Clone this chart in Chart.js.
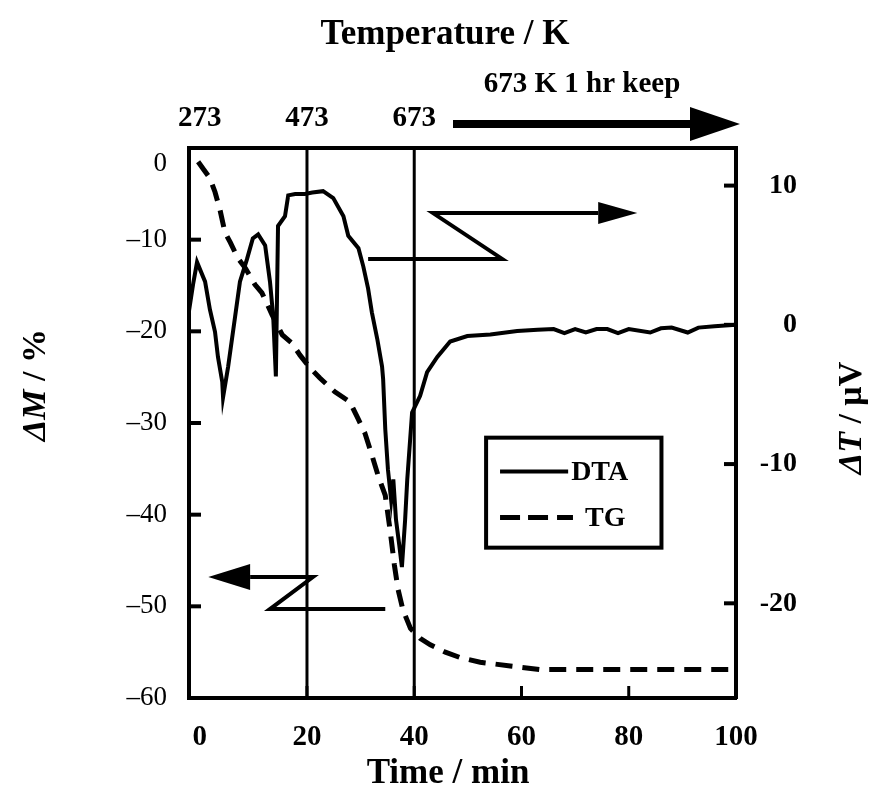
<!DOCTYPE html>
<html>
<head>
<meta charset="utf-8">
<script src="https://cdn.jsdelivr.net/npm/chart.js@4.4.1/dist/chart.umd.min.js"></script>
<style>
  html, body { margin: 0; padding: 0; background: #fff; }
</style>
</head>
<body>
<canvas id="dta-tg-chart" width="869" height="799"></canvas>
<script>
// DTA curve (right axis, ΔT / μV) against time / min
const timeDTA = [-2, -1.2, -0.5, 1.0, 1.9, 2.85, 3.4, 4.2, 4.35, 5.3, 6.6, 7.5, 8.8, 9.9, 10.9,
  12.2, 13.1, 13.7, 14.2, 14.6, 15.9, 16.5, 17.8, 19.6, 21.0, 23.0, 24.9, 26.8, 27.7, 29.6,
  30.5, 31.4, 32.1, 33.1, 34.0, 34.2, 34.6, 35.1, 35.7, 36.1, 36.6, 37.2, 37.7, 38.3, 38.7,
  39.6, 41.1, 42.4, 44.3, 46.7, 49.9, 54.2, 59.2, 63, 66, 68, 70, 72, 74, 76,
  78, 80, 84, 86, 88, 91, 93, 96, 100];
const dta = [1.0, 3.0, 4.5, 3.1, 1.1, -0.5, -2.3, -4.1, -5.2, -3.0, 0.6, 3.1, 4.7, 6.2, 6.5,
  5.7, 3.1, 0.6, -3.7, 7.1, 7.8, 9.3, 9.4, 9.4, 9.5, 9.6, 9.1, 7.8, 6.4, 5.5,
  4.2, 2.6, 0.9, -1.0, -3.0, -3.9, -7.5, -10.4, -12.6, -11.1, -14.0, -15.8, -17.4, -14.0, -11.1,
  -6.3, -5.1, -3.4, -2.3, -1.2, -0.8, -0.7, -0.45, -0.35, -0.3, -0.6, -0.3, -0.55, -0.3, -0.3,
  -0.6, -0.3, -0.55, -0.25, -0.2, -0.55, -0.2, -0.1, 0.0];

// TG curve (left axis, ΔM / %) against time / min
const timeTG = [-0.3, 0.8, 1.9, 2.85, 3.8, 4.7, 5.7, 7.1, 8.5, 10.3, 11.6, 13.5, 15.4, 17.2, 18.7,
  20.6, 22.4, 25.2, 28.0, 29.5, 30.8, 32.1, 33.3, 34.6, 35.5, 36.3, 37.0, 37.9, 39.3, 41.1,
  43.0, 45.8, 48.6, 52.3, 57.9, 63.5, 75, 100];
const tg = [-1.5, -2.4, -3.3, -4.8, -6.8, -9.2, -10.3, -12.0, -13.1, -14.9, -15.8, -18.2, -20.4, -21.3, -22.6,
  -24.0, -25.1, -26.6, -27.7, -29.5, -31.1, -33.5, -35.8, -37.9, -41.7, -45.5, -48.2, -50.4, -52.4, -53.5,
  -54.2, -55.0, -55.6, -56.1, -56.5, -56.9, -56.9, -56.9];

// tick labels
const timeTicks = [0, 20, 40, 60, 80, 100];
const tempTickTimes = [0, 20, 40];
const tempTicks = ['273', '473', '673'];
const massTicks = [0, -10, -20, -30, -40, -50, -60];
const dtaTicks = [10, 0, -10, -20];
const markerTimes = [20, 40];

const SERIF = '"Liberation Serif", "Times New Roman", serif';

const overlay = {
  id: 'overlay',
  afterDatasetsDraw(chart) {
    const ctx = chart.ctx;
    const x = chart.scales.x, yM = chart.scales.yM, yT = chart.scales.yT;
    const ca = chart.chartArea;
    ctx.save();
    ctx.strokeStyle = '#000';
    ctx.fillStyle = '#000';
    ctx.lineCap = 'butt';

    // vertical lines at 473 K and 673 K
    ctx.lineWidth = 3;
    markerTimes.forEach(t => {
      const px = x.getPixelForValue(t);
      ctx.beginPath(); ctx.moveTo(px, ca.top); ctx.lineTo(px, ca.bottom); ctx.stroke();
    });

    // inward tick marks
    ctx.lineWidth = 4;
    massTicks.slice(1, -1).forEach(v => {
      const py = yM.getPixelForValue(v);
      ctx.beginPath(); ctx.moveTo(ca.left, py); ctx.lineTo(ca.left + 12, py); ctx.stroke();
    });
    dtaTicks.forEach(v => {
      const py = yT.getPixelForValue(v);
      ctx.beginPath(); ctx.moveTo(ca.right, py); ctx.lineTo(ca.right - 12, py); ctx.stroke();
    });
    ctx.lineWidth = 3;
    timeTicks.slice(1, -1).forEach(v => {
      const px = x.getPixelForValue(v);
      ctx.beginPath(); ctx.moveTo(px, ca.bottom); ctx.lineTo(px, ca.bottom - 12); ctx.stroke();
    });

    const P = (t, m) => [x.getPixelForValue(t), yM.getPixelForValue(m)];

    // Z arrow pointing right (DTA -> right axis)
    ctx.lineWidth = 4;
    ctx.lineJoin = 'miter';
    let a = P(31.4, -12.1), b = P(56.4, -12.1), c = P(43.5, -7.1), d = P(74.3, -7.1), tip = P(81.6, -7.1);
    ctx.beginPath();
    ctx.moveTo(a[0], a[1]); ctx.lineTo(b[0], b[1]); ctx.lineTo(c[0], c[1]); ctx.lineTo(d[0], d[1]);
    ctx.stroke();
    ctx.beginPath();
    ctx.moveTo(tip[0], tip[1]); ctx.lineTo(d[0], d[1] - 11); ctx.lineTo(d[0], d[1] + 11); ctx.closePath();
    ctx.fill();

    // Z arrow pointing left (TG -> left axis)
    tip = P(1.6, -46.8); d = P(9.4, -46.8); c = P(21.1, -46.8); b = P(13.1, -50.3); a = P(34.6, -50.3);
    ctx.beginPath();
    ctx.moveTo(d[0], d[1]); ctx.lineTo(c[0], c[1]); ctx.lineTo(b[0], b[1]); ctx.lineTo(a[0], a[1]);
    ctx.stroke();
    ctx.beginPath();
    ctx.moveTo(tip[0], tip[1]); ctx.lineTo(d[0], d[1] - 13); ctx.lineTo(d[0], d[1] + 13); ctx.closePath();
    ctx.fill();

    // legend box
    const l0 = P(53.4, -31.6), l1 = P(86.1, -43.6);
    ctx.lineWidth = 4;
    ctx.strokeRect(l0[0], l0[1], l1[0] - l0[0], l1[1] - l0[1]);
    const dl = P(56.0, -35.3), dr = P(68.7, -35.3);
    ctx.beginPath(); ctx.moveTo(dl[0], dl[1]); ctx.lineTo(dr[0], dr[1]); ctx.stroke();
    const tl = P(56.0, -40.3), tr = P(69.6, -40.3);
    ctx.lineWidth = 5;
    ctx.setLineDash([20, 8, 20, 9]);
    ctx.beginPath(); ctx.moveTo(tl[0], tl[1]); ctx.lineTo(tr[0], tr[1]); ctx.stroke();
    ctx.setLineDash([]);
    ctx.font = 'bold 28px ' + SERIF;
    ctx.textBaseline = 'middle';
    ctx.textAlign = 'left';
    ctx.fillText('DTA', dr[0] + 3, dr[1] + 1);
    ctx.fillText('TG', tr[0] + 12, tr[1] + 1);
    ctx.restore();
  },
  afterDraw(chart) {
    const ctx = chart.ctx;
    ctx.save();
    ctx.fillStyle = '#000';
    ctx.strokeStyle = '#000';
    ctx.textAlign = 'center';
    ctx.textBaseline = 'middle';
    ctx.font = 'bold 35px ' + SERIF;
    ctx.fillText('Temperature / K', 445, 35);
    ctx.fillText('Time / min', 448, 774);
    ctx.font = 'bold 29px ' + SERIF;
    ctx.fillText('673 K 1 hr keep', 582, 85);

    // holding arrow
    ctx.lineWidth = 8;
    ctx.beginPath(); ctx.moveTo(453, 124); ctx.lineTo(694, 124); ctx.stroke();
    ctx.beginPath(); ctx.moveTo(740, 124); ctx.lineTo(690, 107); ctx.lineTo(690, 141); ctx.closePath(); ctx.fill();

    // rotated axis titles with italic symbols
    const vTitle = (cx, cy, sym, rest) => {
      ctx.save();
      ctx.translate(cx, cy);
      ctx.rotate(-Math.PI / 2);
      ctx.textAlign = 'left';
      ctx.font = 'bold italic 34px ' + SERIF;
      const w1 = ctx.measureText(sym).width;
      ctx.font = 'bold 34px ' + SERIF;
      const w2 = ctx.measureText(rest).width;
      const x0 = -(w1 + w2) / 2;
      ctx.font = 'bold italic 34px ' + SERIF;
      ctx.fillText(sym, x0, 0);
      ctx.font = 'bold 34px ' + SERIF;
      ctx.fillText(rest, x0 + w1, 0);
      ctx.restore();
    };
    vTitle(36, 385, 'ΔM', ' / %');
    vTitle(852, 418, 'ΔT', ' / μV');
    ctx.restore();
  }
};

const ctx = document.getElementById('dta-tg-chart').getContext('2d');

new Chart(ctx, {
  type: 'line',
  data: {
    datasets: [
      {
        label: 'DTA',
        data: timeDTA.map((t, i) => ({ x: t, y: dta[i] })),
        yAxisID: 'yT',
        borderColor: '#000',
        borderWidth: 4,
        pointRadius: 0,
        tension: 0
      },
      {
        label: 'TG',
        data: timeTG.map((t, i) => ({ x: t, y: tg[i] })),
        yAxisID: 'yM',
        borderColor: '#000',
        borderWidth: 5,
        borderDash: [17, 10],
        pointRadius: 0,
        tension: 0
      }
    ]
  },
  options: {
    responsive: false,
    animation: false,
    layout: { padding: { left: 0, top: 0, bottom: 0, right: 72 } },
    plugins: { legend: { display: false }, tooltip: { enabled: false } },
    scales: {
      x: {
        type: 'linear', position: 'bottom', min: -2, max: 100,
        afterFit: s => { s.height = 101; },
        afterBuildTicks: s => { s.ticks = timeTicks.map(v => ({ value: v })); },
        grid: { display: false, drawTicks: false },
        border: { display: true, width: 4, color: '#000' },
        ticks: { color: '#000', padding: 22, maxRotation: 0, font: { family: SERIF, size: 29, weight: 'bold' } }
      },
      x2: {
        type: 'linear', position: 'top', min: -2, max: 100,
        afterFit: s => { s.height = 148; },
        afterBuildTicks: s => { s.ticks = tempTickTimes.map(v => ({ value: v })); },
        grid: { display: false, drawTicks: false },
        border: { display: true, width: 4, color: '#000' },
        ticks: {
          color: '#000', padding: 12, maxRotation: 0,
          font: { family: SERIF, size: 29, weight: 'bold' },
          callback: (v, i) => tempTicks[i]
        }
      },
      yM: {
        type: 'linear', position: 'left', min: -60, max: 0,
        afterFit: s => { s.width = 189; },
        afterBuildTicks: s => { s.ticks = massTicks.map(v => ({ value: v })); },
        grid: { display: false, drawTicks: false },
        border: { display: true, width: 4, color: '#000' },
        ticks: {
          color: '#000', padding: 22,
          font: { family: SERIF, size: 27 },
          // the top label sits a little below its tick in the original
          callback: v => (v < 0 ? '\u2013' + Math.abs(v) : ['', String(v)])
        }
      },
      yT: {
        type: 'linear', position: 'right', min: -26.8, max: 12.7,
        afterFit: s => { s.width = 61; },
        afterBuildTicks: s => { s.ticks = dtaTicks.map(v => ({ value: v })); },
        grid: { display: false, drawTicks: false },
        border: { display: true, width: 4, color: '#000' },
        ticks: {
          color: '#000', padding: 14, crossAlign: 'far',
          font: { family: SERIF, size: 28, weight: 'bold' },
          callback: v => String(v)
        }
      }
    }
  },
  plugins: [overlay]
});
</script>
</body>
</html>
